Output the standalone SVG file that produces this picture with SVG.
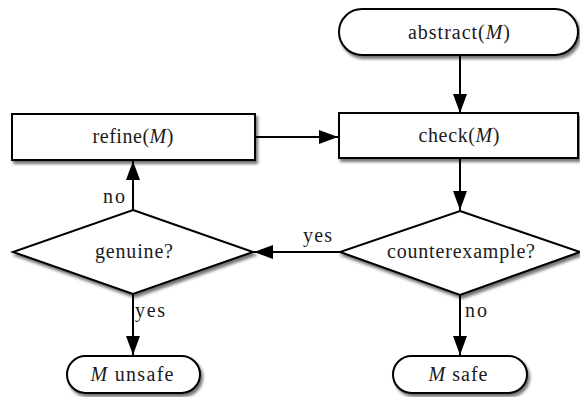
<svg xmlns="http://www.w3.org/2000/svg" width="580" height="397" viewBox="0 0 580 397">
<style>
.shape{fill:#fff;stroke:#000;stroke-width:2;filter:url(#sh)}
.t{font-family:"Liberation Serif","Times New Roman",serif;font-size:20px;fill:#1a1a1a;text-anchor:middle}
.l{font-family:"Liberation Serif","Times New Roman",serif;font-size:20px;fill:#1a1a1a}
.i{font-style:italic}
.c{fill:none;stroke:#000;stroke-width:2;marker-end:url(#ah)}
</style>
<defs>
<filter id="sh" x="-10%" y="-20%" width="130%" height="150%">
<feDropShadow dx="2" dy="3" stdDeviation="1.5" flood-color="#000" flood-opacity="0.55"/>
</filter>
<marker id="ah" markerUnits="userSpaceOnUse" markerWidth="20" markerHeight="16" refX="19" refY="7" orient="auto">
<path d="M0,0 L19,7 L0,14 Z" fill="#000"/>
</marker>
</defs>
<g id="connectors">
<line class="c" x1="460" y1="55" x2="460" y2="113"/>
<line class="c" x1="255" y1="137" x2="338" y2="137"/>
<line class="c" x1="460" y1="158" x2="460" y2="210"/>
<line class="c" x1="340" y1="252" x2="254" y2="252"/>
<line class="c" x1="133" y1="210" x2="133" y2="161"/>
<line class="c" x1="133" y1="294" x2="133" y2="355"/>
<line class="c" x1="460" y1="295" x2="460" y2="355"/>
<text class="l" x="303" y="242" textLength="29">yes</text>
<text class="l" x="103" y="203" textLength="22">no</text>
<text class="l" x="135" y="317" textLength="30">yes</text>
<text class="l" x="465" y="317" textLength="22">no</text>
</g>
<g id="abstract">
<rect class="shape" x="339" y="9" width="239" height="46" rx="23"/>
<text class="t" x="459" y="39" textLength="102">abstract(<tspan class="i">M</tspan>)</text>
</g>
<g id="check">
<rect class="shape" x="339" y="113" width="239" height="45"/>
<text class="t" x="459" y="142" textLength="81">check(<tspan class="i">M</tspan>)</text>
</g>
<g id="refine">
<rect class="shape" x="12" y="114" width="243" height="46"/>
<text class="t" x="133" y="143" textLength="81">refine(<tspan class="i">M</tspan>)</text>
</g>
<g id="counterexample">
<polygon class="shape" points="460,211 580,252 460,295 340,252"/>
<text class="t" x="461" y="258" textLength="148">counterexample?</text>
</g>
<g id="genuine">
<polygon class="shape" points="133,210 253,252 133,294 13,252"/>
<text class="t" x="134" y="258" textLength="78">genuine?</text>
</g>
<g id="unsafe">
<rect class="shape" x="67" y="356" width="133" height="37" rx="18.5"/>
<text class="t" x="132" y="381" textLength="83"><tspan class="i">M</tspan> unsafe</text>
</g>
<g id="safe">
<rect class="shape" x="393" y="356" width="134" height="37" rx="18.5"/>
<text class="t" x="458" y="381" textLength="59"><tspan class="i">M</tspan> safe</text>
</g>
</svg>
